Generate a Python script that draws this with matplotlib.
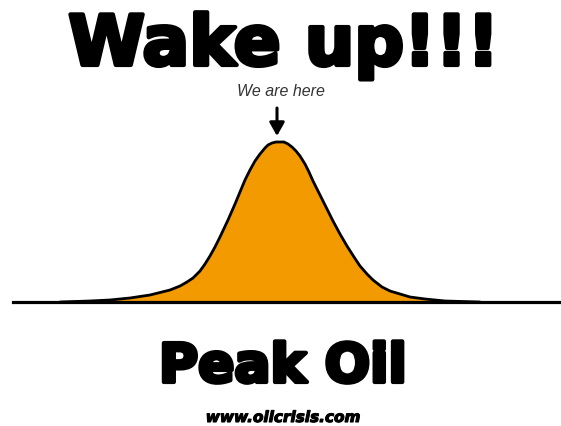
import matplotlib
matplotlib.use("Agg")
import matplotlib.pyplot as plt
import matplotlib.patheffects as pe

# Curve: x position (px) and height above baseline (px)
curve_x = [60, 90, 110, 130, 150, 170, 180, 187, 193, 200, 205, 210, 215, 220,
           228, 235, 240, 245, 250, 255, 260, 265, 268, 272, 276, 280, 284, 288,
           292, 296, 300, 305, 309, 313, 320, 327, 333, 340, 347, 354, 360, 367,
           373, 382, 390, 400, 410, 425, 445, 480]
curve_h = [0, 1, 2, 4, 7, 12, 16, 20, 24, 31, 38, 46, 55, 65,
           82, 98, 110, 122, 132, 141, 148, 154, 157, 159, 160, 160, 160, 158,
           155, 151, 146, 138, 130, 121, 107, 93, 81, 68, 56, 45, 36, 28,
           22, 15, 11, 8, 5, 3, 1, 0]

title_text = "Wake up!!!"
marker_text = "We are here"
subtitle_text = "Peak Oil"
url_text = "www.oilcrisis.com"

W, H = 561, 427
BASE = 303  # baseline in pixel rows from top

fig = plt.figure(figsize=(W / 100, H / 100), dpi=100)
ax = fig.add_axes([0, 0, 1, 1])
ax.set_xlim(0, W)
ax.set_ylim(0, H)
ax.axis("off")

ys = [H - BASE + h for h in curve_h]
ax.fill_between(curve_x, H - BASE, ys, color="#F29A00", lw=0, zorder=2)
ax.plot(curve_x, ys, color="black", lw=2.0, solid_capstyle="round",
        solid_joinstyle="round", zorder=3)
ax.plot([13, W], [H - BASE, H - BASE], color="black", lw=2.3, zorder=4)

stroke = [pe.withStroke(linewidth=3, foreground="black")]
ax.text(284, H - 66, title_text, ha="center", va="baseline", fontsize=50,
        fontweight="bold", family="DejaVu Sans", color="black",
        path_effects=stroke)
ax.text(281, H - 92, marker_text, ha="center", va="center", fontsize=11.5,
        style="italic", family="Liberation Sans", color="#333333")
ax.annotate("", xy=(277, H - 137), xytext=(277, H - 109),
            arrowprops=dict(arrowstyle="-|>,head_length=0.8,head_width=0.45",
                            color="black", lw=2.2, mutation_scale=10,
                            shrinkA=0, shrinkB=0))
ax.text(283, H - 383, subtitle_text, ha="center", va="baseline", fontsize=38.5,
        fontweight="bold", family="DejaVu Sans", color="black",
        path_effects=stroke)
ax.text(283, H - 423, url_text, ha="center", va="baseline", fontsize=11,
        fontweight="bold", style="italic", family="DejaVu Sans",
        color="black", path_effects=[pe.withStroke(linewidth=0.8, foreground="black")])

fig.savefig("out.png", dpi=100)
